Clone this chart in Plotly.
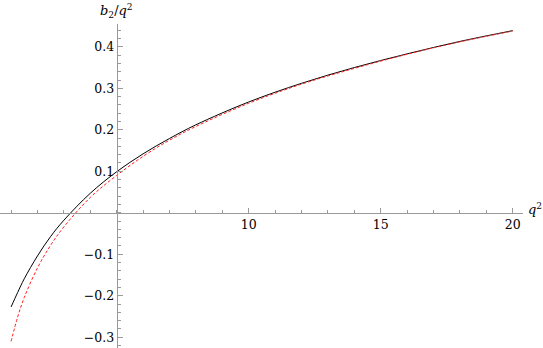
import plotly.graph_objects as go

q2 = [1, 1.25, 1.5, 2, 2.5, 3, 4, 5, 6, 7, 8, 10, 12, 14, 16, 18, 20]
b2_exact = [-0.227, -0.192, -0.159, -0.104, -0.057, -0.018, 0.047, 0.099, 0.142,
            0.179, 0.212, 0.267, 0.312, 0.350, 0.383, 0.413, 0.439]
b2_approx = [-0.310, -0.251, -0.204, -0.133, -0.078, -0.034, 0.037, 0.090, 0.136,
             0.175, 0.208, 0.264, 0.310, 0.348, 0.382, 0.412, 0.438]

x_ticks = [10, 15, 20]
y_ticks = [-0.3, -0.2, -0.1, 0.1, 0.2, 0.3, 0.4]
y_ticklabels = ["\u22120.3", "\u22120.2", "\u22120.1", "0.1", "0.2", "0.3", "0.4"]

xr = [0.58, 20.39]
yr = [-0.326, 0.455]

fig = go.Figure()
fig.add_trace(go.Scatter(x=q2, y=b2_exact, mode="lines",
                         line=dict(color="black", width=1, shape="spline"),
                         hoverinfo="skip"))
fig.add_trace(go.Scatter(x=q2, y=b2_approx, mode="lines",
                         line=dict(color="#ff2020", width=1, dash="3px,2px", shape="spline"),
                         hoverinfo="skip"))

axcol = "#9a9a9a"
font = dict(family="DejaVu Serif", size=12.5, color="black")
label_font = dict(family="DejaVu Serif", size=13, color="black")

fig.update_layout(
    width=543, height=348,
    margin=dict(l=0, r=20, t=24, b=0, pad=0, autoexpand=False),
    paper_bgcolor="white", plot_bgcolor="white",
    showlegend=False,
    font=font,
    xaxis=dict(range=xr, showgrid=False, zeroline=False, automargin=False,
               showline=True, linecolor=axcol, linewidth=1,
               anchor="free", position=(0 - yr[0]) / (yr[1] - yr[0]),
               tickmode="array", tickvals=x_ticks,
               ticks="inside", ticklen=5, tickcolor=axcol, tickwidth=1,
               minor=dict(tickmode="linear", tick0=0, dtick=1, ticks="inside",
                          ticklen=3, tickcolor=axcol, tickwidth=1, showgrid=False),
               tickfont=font),
    yaxis=dict(range=yr, showgrid=False, zeroline=False, automargin=False,
               showline=True, linecolor=axcol, linewidth=1,
               anchor="free", position=(5 - xr[0]) / (xr[1] - xr[0]),
               tickmode="array", tickvals=y_ticks, ticktext=y_ticklabels,
               ticks="inside", ticklen=5, tickcolor=axcol, tickwidth=1,
               minor=dict(tickmode="linear", tick0=0, dtick=0.02, ticks="inside",
                          ticklen=3, tickcolor=axcol, tickwidth=1, showgrid=False),
               tickfont=font),
)

fig.add_annotation(x=5, y=yr[1], xref="x", yref="y", showarrow=False,
                   text="<i>b</i><sub>2</sub>/<i>q</i><sup>2</sup>",
                   xanchor="center", yanchor="bottom", yshift=2, font=label_font)
fig.add_annotation(x=xr[1], y=0, xref="x", yref="y", showarrow=False,
                   text="<i>q</i><sup>2</sup>",
                   xanchor="left", yanchor="middle", xshift=3, yshift=4, font=label_font)

fig.write_html("out.html", config={"displayModeBar": False},
               post_script="document.body.style.margin='0';document.body.style.padding='0';")
